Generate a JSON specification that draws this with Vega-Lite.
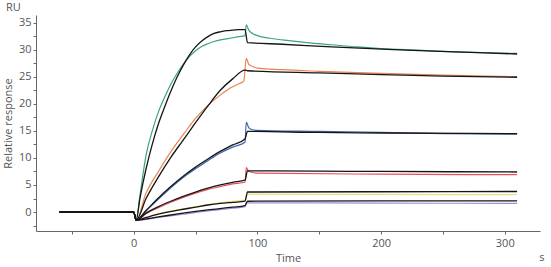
{
  "$schema": "https://vega.github.io/schema/vega-lite/v6.json",
  "width": 504,
  "height": 216,
  "autosize": "none",
  "padding": {"left": 36, "top": 15, "right": 11, "bottom": 36},
  "background": "white",
  "config": {
    "view": {"stroke": null},
    "font": "Open Sans",
    "axis": {"domainColor": "#666", "tickColor": "#666", "labelColor": "#555", "titleColor": "#555", "labelFontSize": 11, "titleFontSize": 11, "titleFontWeight": "normal", "grid": false, "tickSize": 3, "labelOverlap": false}
  },
  "title": {"text": "RU", "anchor": "start", "frame": "group", "dx": -30, "offset": 2, "fontSize": 11, "fontWeight": "normal", "color": "#555", "font": "Open Sans"},
  "datasets": {
    "curves": [
      {"k":"d","s":"d1","t":-60,"v":0},{"k":"d","s":"d1","t":-30,"v":0.05},{"k":"d","s":"d1","t":0,"v":0},{"k":"d","s":"d1","t":2,"v":-1.5},{"k":"d","s":"d1","t":5,"v":3},{"k":"d","s":"d1","t":10,"v":10.5},{"k":"d","s":"d1","t":15,"v":15},{"k":"d","s":"d1","t":20,"v":18.5},{"k":"d","s":"d1","t":25,"v":21.2},{"k":"d","s":"d1","t":30,"v":23.6},{"k":"d","s":"d1","t":35,"v":25.6},{"k":"d","s":"d1","t":40,"v":27.3},{"k":"d","s":"d1","t":45,"v":28.7},{"k":"d","s":"d1","t":50,"v":29.8},{"k":"d","s":"d1","t":55,"v":30.6},{"k":"d","s":"d1","t":60,"v":31.1},{"k":"d","s":"d1","t":65,"v":31.5},{"k":"d","s":"d1","t":70,"v":31.8},{"k":"d","s":"d1","t":75,"v":32.0},{"k":"d","s":"d1","t":80,"v":32.2},{"k":"d","s":"d1","t":85,"v":32.4},{"k":"d","s":"d1","t":90,"v":32.6},{"k":"d","s":"d1","t":91,"v":34.6},{"k":"d","s":"d1","t":93,"v":33.6},{"k":"d","s":"d1","t":96,"v":33.0},{"k":"d","s":"d1","t":100,"v":32.6},{"k":"d","s":"d1","t":110,"v":32.1},{"k":"d","s":"d1","t":120,"v":31.8},{"k":"d","s":"d1","t":140,"v":31.3},{"k":"d","s":"d1","t":160,"v":30.9},{"k":"d","s":"d1","t":180,"v":30.5},{"k":"d","s":"d1","t":200,"v":30.2},{"k":"d","s":"d1","t":230,"v":29.9},{"k":"d","s":"d1","t":260,"v":29.6},{"k":"d","s":"d1","t":290,"v":29.4},{"k":"d","s":"d1","t":310,"v":29.3},

      {"k":"d","s":"d2","t":-60,"v":0},{"k":"d","s":"d2","t":0,"v":0},{"k":"d","s":"d2","t":2,"v":-1.5},{"k":"d","s":"d2","t":10,"v":3.5},{"k":"d","s":"d2","t":20,"v":7.5},{"k":"d","s":"d2","t":32,"v":11.8},{"k":"d","s":"d2","t":40,"v":14.3},{"k":"d","s":"d2","t":50,"v":17.3},{"k":"d","s":"d2","t":60,"v":19.7},{"k":"d","s":"d2","t":70,"v":21.6},{"k":"d","s":"d2","t":78,"v":22.9},{"k":"d","s":"d2","t":85,"v":23.7},{"k":"d","s":"d2","t":89,"v":24.2},{"k":"d","s":"d2","t":91,"v":28.4},{"k":"d","s":"d2","t":93,"v":27.3},{"k":"d","s":"d2","t":96,"v":26.9},{"k":"d","s":"d2","t":100,"v":26.6},{"k":"d","s":"d2","t":120,"v":26.3},{"k":"d","s":"d2","t":150,"v":26.0},{"k":"d","s":"d2","t":200,"v":25.6},{"k":"d","s":"d2","t":250,"v":25.3},{"k":"d","s":"d2","t":310,"v":25.0},

      {"k":"d","s":"d3","t":-60,"v":0},{"k":"d","s":"d3","t":0,"v":0},{"k":"d","s":"d3","t":2,"v":-1.5},{"k":"d","s":"d3","t":10,"v":0.2},{"k":"d","s":"d3","t":20,"v":2.4},{"k":"d","s":"d3","t":30,"v":4.5},{"k":"d","s":"d3","t":40,"v":6.4},{"k":"d","s":"d3","t":50,"v":8.0},{"k":"d","s":"d3","t":60,"v":9.5},{"k":"d","s":"d3","t":70,"v":10.9},{"k":"d","s":"d3","t":80,"v":12.0},{"k":"d","s":"d3","t":90,"v":12.9},{"k":"d","s":"d3","t":91,"v":16.6},{"k":"d","s":"d3","t":93,"v":15.6},{"k":"d","s":"d3","t":96,"v":15.2},{"k":"d","s":"d3","t":100,"v":15.1},{"k":"d","s":"d3","t":150,"v":14.9},{"k":"d","s":"d3","t":200,"v":14.7},{"k":"d","s":"d3","t":250,"v":14.5},{"k":"d","s":"d3","t":310,"v":14.4},

      {"k":"d","s":"d4","t":-60,"v":0},{"k":"d","s":"d4","t":0,"v":0},{"k":"d","s":"d4","t":2,"v":-1.5},{"k":"d","s":"d4","t":10,"v":-0.3},{"k":"d","s":"d4","t":20,"v":0.8},{"k":"d","s":"d4","t":30,"v":1.8},{"k":"d","s":"d4","t":40,"v":2.7},{"k":"d","s":"d4","t":50,"v":3.5},{"k":"d","s":"d4","t":60,"v":4.2},{"k":"d","s":"d4","t":70,"v":4.7},{"k":"d","s":"d4","t":80,"v":5.2},{"k":"d","s":"d4","t":90,"v":5.5},{"k":"d","s":"d4","t":91,"v":8.2},{"k":"d","s":"d4","t":93,"v":7.5},{"k":"d","s":"d4","t":100,"v":7.2},{"k":"d","s":"d4","t":200,"v":7.0},{"k":"d","s":"d4","t":310,"v":6.9},

      {"k":"d","s":"d5","t":-60,"v":0},{"k":"d","s":"d5","t":0,"v":0},{"k":"d","s":"d5","t":2,"v":-1.5},{"k":"d","s":"d5","t":20,"v":-0.3},{"k":"d","s":"d5","t":40,"v":0.6},{"k":"d","s":"d5","t":60,"v":1.4},{"k":"d","s":"d5","t":80,"v":2.0},{"k":"d","s":"d5","t":90,"v":2.2},{"k":"d","s":"d5","t":91,"v":3.0},{"k":"d","s":"d5","t":93,"v":3.3},{"k":"d","s":"d5","t":200,"v":3.25},{"k":"d","s":"d5","t":310,"v":3.2},

      {"k":"d","s":"d6","t":-60,"v":0},{"k":"d","s":"d6","t":0,"v":0},{"k":"d","s":"d6","t":2,"v":-1.5},{"k":"d","s":"d6","t":20,"v":-1.0},{"k":"d","s":"d6","t":40,"v":-0.4},{"k":"d","s":"d6","t":60,"v":0.2},{"k":"d","s":"d6","t":80,"v":0.7},{"k":"d","s":"d6","t":90,"v":1.0},{"k":"d","s":"d6","t":91,"v":1.7},{"k":"d","s":"d6","t":200,"v":1.65},{"k":"d","s":"d6","t":310,"v":1.6},

      {"k":"f","s":"f1","t":-60,"v":0},{"k":"f","s":"f1","t":0,"v":0},{"k":"f","s":"f1","t":2,"v":-1.5},{"k":"f","s":"f1","t":5,"v":2.5},{"k":"f","s":"f1","t":10,"v":8},{"k":"f","s":"f1","t":15,"v":12.5},{"k":"f","s":"f1","t":20,"v":16.3},{"k":"f","s":"f1","t":25,"v":19.4},{"k":"f","s":"f1","t":30,"v":22.3},{"k":"f","s":"f1","t":35,"v":24.9},{"k":"f","s":"f1","t":40,"v":27.1},{"k":"f","s":"f1","t":45,"v":29.0},{"k":"f","s":"f1","t":50,"v":30.5},{"k":"f","s":"f1","t":55,"v":31.6},{"k":"f","s":"f1","t":60,"v":32.4},{"k":"f","s":"f1","t":65,"v":33.0},{"k":"f","s":"f1","t":70,"v":33.3},{"k":"f","s":"f1","t":75,"v":33.5},{"k":"f","s":"f1","t":80,"v":33.6},{"k":"f","s":"f1","t":85,"v":33.7},{"k":"f","s":"f1","t":90,"v":33.7},{"k":"f","s":"f1","t":92,"v":31.3},{"k":"f","s":"f1","t":120,"v":31.0},{"k":"f","s":"f1","t":160,"v":30.5},{"k":"f","s":"f1","t":210,"v":30.0},{"k":"f","s":"f1","t":260,"v":29.6},{"k":"f","s":"f1","t":310,"v":29.2},

      {"k":"f","s":"f2","t":-60,"v":0},{"k":"f","s":"f2","t":0,"v":0},{"k":"f","s":"f2","t":2,"v":-1.5},{"k":"f","s":"f2","t":10,"v":2.5},{"k":"f","s":"f2","t":20,"v":6.5},{"k":"f","s":"f2","t":30,"v":10.1},{"k":"f","s":"f2","t":40,"v":13.3},{"k":"f","s":"f2","t":50,"v":16.5},{"k":"f","s":"f2","t":60,"v":19.6},{"k":"f","s":"f2","t":70,"v":22.5},{"k":"f","s":"f2","t":80,"v":24.6},{"k":"f","s":"f2","t":90,"v":26.2},{"k":"f","s":"f2","t":92,"v":26.1},{"k":"f","s":"f2","t":150,"v":25.7},{"k":"f","s":"f2","t":200,"v":25.4},{"k":"f","s":"f2","t":250,"v":25.1},{"k":"f","s":"f2","t":310,"v":24.9},

      {"k":"f","s":"f3","t":-60,"v":0},{"k":"f","s":"f3","t":0,"v":0},{"k":"f","s":"f3","t":2,"v":-1.5},{"k":"f","s":"f3","t":10,"v":0.3},{"k":"f","s":"f3","t":20,"v":2.6},{"k":"f","s":"f3","t":30,"v":4.7},{"k":"f","s":"f3","t":40,"v":6.6},{"k":"f","s":"f3","t":50,"v":8.3},{"k":"f","s":"f3","t":60,"v":9.8},{"k":"f","s":"f3","t":70,"v":11.2},{"k":"f","s":"f3","t":80,"v":12.4},{"k":"f","s":"f3","t":90,"v":13.5},{"k":"f","s":"f3","t":92,"v":14.9},{"k":"f","s":"f3","t":150,"v":14.7},{"k":"f","s":"f3","t":200,"v":14.6},{"k":"f","s":"f3","t":310,"v":14.5},

      {"k":"f","s":"f4","t":-60,"v":0},{"k":"f","s":"f4","t":0,"v":0},{"k":"f","s":"f4","t":2,"v":-1.5},{"k":"f","s":"f4","t":10,"v":-0.2},{"k":"f","s":"f4","t":20,"v":1.0},{"k":"f","s":"f4","t":30,"v":2.0},{"k":"f","s":"f4","t":40,"v":2.9},{"k":"f","s":"f4","t":50,"v":3.7},{"k":"f","s":"f4","t":60,"v":4.4},{"k":"f","s":"f4","t":70,"v":5.0},{"k":"f","s":"f4","t":80,"v":5.5},{"k":"f","s":"f4","t":90,"v":5.9},{"k":"f","s":"f4","t":92,"v":7.6},{"k":"f","s":"f4","t":150,"v":7.55},{"k":"f","s":"f4","t":200,"v":7.5},{"k":"f","s":"f4","t":310,"v":7.4},

      {"k":"f","s":"f5","t":-60,"v":0},{"k":"f","s":"f5","t":0,"v":0},{"k":"f","s":"f5","t":2,"v":-1.5},{"k":"f","s":"f5","t":10,"v":-1.0},{"k":"f","s":"f5","t":20,"v":-0.4},{"k":"f","s":"f5","t":37,"v":0.4},{"k":"f","s":"f5","t":50,"v":0.9},{"k":"f","s":"f5","t":60,"v":1.3},{"k":"f","s":"f5","t":70,"v":1.6},{"k":"f","s":"f5","t":80,"v":1.8},{"k":"f","s":"f5","t":90,"v":2.0},{"k":"f","s":"f5","t":92,"v":3.7},{"k":"f","s":"f5","t":200,"v":3.75},{"k":"f","s":"f5","t":310,"v":3.8},

      {"k":"f","s":"f6","t":-60,"v":0},{"k":"f","s":"f6","t":0,"v":0},{"k":"f","s":"f6","t":2,"v":-1.5},{"k":"f","s":"f6","t":20,"v":-0.9},{"k":"f","s":"f6","t":37,"v":-0.3},{"k":"f","s":"f6","t":60,"v":0.4},{"k":"f","s":"f6","t":80,"v":0.9},{"k":"f","s":"f6","t":90,"v":1.2},{"k":"f","s":"f6","t":92,"v":2.0},{"k":"f","s":"f6","t":200,"v":2.05},{"k":"f","s":"f6","t":310,"v":2.05}
    ],
    "unit": [{"label": "s", "t": 330, "v": -3.5}]
  },
  "layer": [
    {
      "data": {"name": "curves"},
      "transform": [{"filter": "datum.k == 'd'"}],
      "mark": {"type": "line", "strokeWidth": 1.2, "interpolate": "monotone", "clip": true},
      "encoding": {
        "x": {"field": "t", "type": "quantitative", "scale": {"domain": [-79, 328.5], "nice": false, "zero": false},
          "axis": {"title": "Time", "values": [-50, 0, 50, 100, 150, 200, 250, 300], "tickCount": 20, "labelExpr": "datum.value % 100 == 0 ? datum.label : ''", "titlePadding": 4, "labelPadding": 3}},
        "y": {"field": "v", "type": "quantitative", "scale": {"domain": [-3.5, 36.4], "nice": false, "zero": false},
          "axis": {"title": "Relative response", "values": [-2.5, 0, 2.5, 5, 7.5, 10, 12.5, 15, 17.5, 20, 22.5, 25, 27.5, 30, 32.5, 35], "tickCount": 40, "labelExpr": "datum.value % 5 == 0 ? datum.label : ''", "titlePadding": 5, "labelPadding": 2}},
        "color": {"field": "s", "type": "nominal", "legend": null,
          "scale": {"domain": ["d1", "d2", "d3", "d4", "d5", "d6"], "range": ["#3aa57c", "#e8844e", "#4066b0", "#e9505a", "#ece07a", "#a58ad8"]}},
        "order": {"field": "t", "type": "quantitative"}
      }
    },
    {
      "data": {"name": "curves"},
      "transform": [{"filter": "datum.k == 'f'"}],
      "mark": {"type": "line", "strokeWidth": 1.3, "color": "#151515", "interpolate": "monotone", "clip": true},
      "encoding": {
        "x": {"field": "t", "type": "quantitative"},
        "y": {"field": "v", "type": "quantitative"},
        "detail": {"field": "s", "type": "nominal"},
        "order": {"field": "t", "type": "quantitative"}
      }
    },
    {
      "data": {"name": "unit"},
      "mark": {"type": "text", "dy": 27, "align": "center", "baseline": "middle", "fontSize": 11, "color": "#555", "font": "Open Sans"},
      "encoding": {
        "x": {"field": "t", "type": "quantitative"},
        "y": {"field": "v", "type": "quantitative"},
        "text": {"field": "label"}
      }
    }
  ]
}
